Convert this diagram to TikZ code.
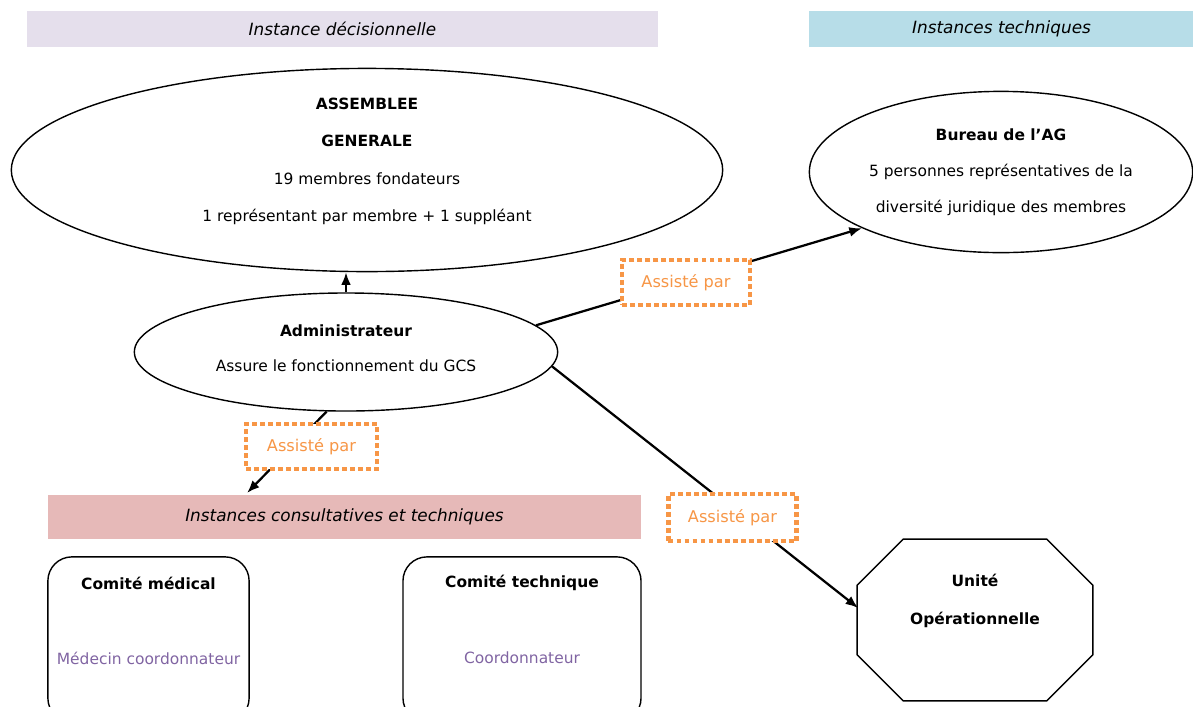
\documentclass[tikz,border=0pt]{standalone}
\usepackage{fontspec}
\setmainfont{DejaVu Sans}
\usetikzlibrary{calc, arrows.meta, shapes.geometric}

\definecolor{lavband}{HTML}{E5DFEC}
\definecolor{blueband}{HTML}{B7DDE8}
\definecolor{pinkband}{HTML}{E6B9B8}
\definecolor{assistorange}{HTML}{F79646}
\definecolor{coordpurple}{HTML}{8064A2}

\begin{document}
\begin{tikzpicture}[
  x=0.025cm, y=-0.025cm,
  every node/.style={font=\fontsize{11}{13}\selectfont},
  band/.style={
    inner sep=0pt, minimum height=0.9cm,
    font=\fontsize{12}{14}\selectfont\itshape
  },
  instance/.style={
    draw, ellipse, line width=1pt, inner sep=0pt, align=center
  },
  assist/.style={
    draw=assistorange, line width=3pt, dash pattern=on 3.5pt off 2.2pt,
    fill=white, text=assistorange, inner sep=0pt,
    minimum width=3.2cm, minimum height=1.12cm,
    font=\fontsize{11.5}{13}\selectfont
  },
  comite/.style={
    draw, line width=1pt, rounded corners=0.6cm, inner sep=0pt,
    minimum height=4.13cm
  },
  link/.style={
    line width=1.6pt, -{Latex[length=9pt, width=7pt]}
  }
]

% page frame
\useasboundingbox (0,0) rectangle (1193,706);

% header bands
\node[band, fill=lavband, minimum width=15.78cm] (decision) at (342.5,29) {Instance décisionnelle};
\node[band, fill=blueband, minimum width=9.6cm] (technique) at (1001.5,29) {Instances techniques};
\node[band, fill=pinkband, minimum width=14.83cm, minimum height=1.1cm] (consult) at (344.5,517) {Instances consultatives et techniques};

% instances
\node[instance, minimum width=17.78cm, minimum height=5cm,
      font=\fontsize{11}{26.5}\selectfont] (ag) at (367,170)
  {\textbf{ASSEMBLEE}\\ \textbf{GENERALE}\\ 19 membres fondateurs\\ 1 représentant par membre + 1 suppléant\\[-12pt]};
\node[instance, minimum width=9.58cm, minimum height=4.03cm,
      font=\fontsize{11}{25.5}\selectfont] (bureau) at (1001,172)
  {\textbf{Bureau de l'AG}\\ 5 personnes représentatives de la\\ diversité juridique des membres};
\node[instance, minimum width=10.58cm, minimum height=2.95cm,
      font=\fontsize{11}{25.5}\selectfont] (admin) at (346,352)
  {\textbf{Administrateur}\\ Assure le fonctionnement du GCS\\[-20pt]};

% unite operationnelle (octagon)
\node[minimum width=5.875cm, minimum height=4.03cm, inner sep=0pt] (unite) at (975,620) {};
\draw[line width=1pt]
  ($(unite.north west)+(46,0)$) -- ($(unite.north east)+(-46,0)$)
  -- ($(unite.north east)+(0,46)$) -- ($(unite.south east)+(0,-46)$)
  -- ($(unite.south east)+(-46,0)$) -- ($(unite.south west)+(46,0)$)
  -- ($(unite.south west)+(0,-46)$) -- ($(unite.north west)+(0,46)$) -- cycle;
\node[font=\fontsize{11}{27}\selectfont\bfseries, align=center] (unite-t) at (975,601) {Unité\\ Opérationnelle};
\coordinate (unite-in) at ($(unite.west)+(1,-12)$);

% comites
\node[comite, minimum width=5.03cm] (cmed) at (148.5,639.5) {};
\node[font=\fontsize{11}{13}\selectfont\bfseries] (cmed-t) at (148.5,583) {Comité médical};
\node[text=coordpurple] (cmed-c) at (148.5,658) {Médecin coordonnateur};
\node[comite, minimum width=5.95cm] (ctech) at (522,639.5) {};
\node[font=\fontsize{11}{13}\selectfont\bfseries] (ctech-t) at (522,583) {Comité technique};
\node[text=coordpurple] (ctech-c) at (522,658) {Coordonnateur};

% connectors
\coordinate (consult-in) at (247,493);
\draw[link] (admin.north) -- (admin.north |- ag.south);
\draw[link] (admin.8) -- (bureau.202);
\draw[link] (admin.252) -- (consult-in);
\draw[link] (admin.-4) -- (unite-in);

% assiste par
\node[assist] (assist1) at (686,282.5) {Assisté par};
\node[assist, minimum width=3.28cm] (assist2) at (311.5,446.5) {Assisté par};
\node[assist, minimum height=1.17cm] (assist3) at (732.5,517.5) {Assisté par};

\end{tikzpicture}
\end{document}
